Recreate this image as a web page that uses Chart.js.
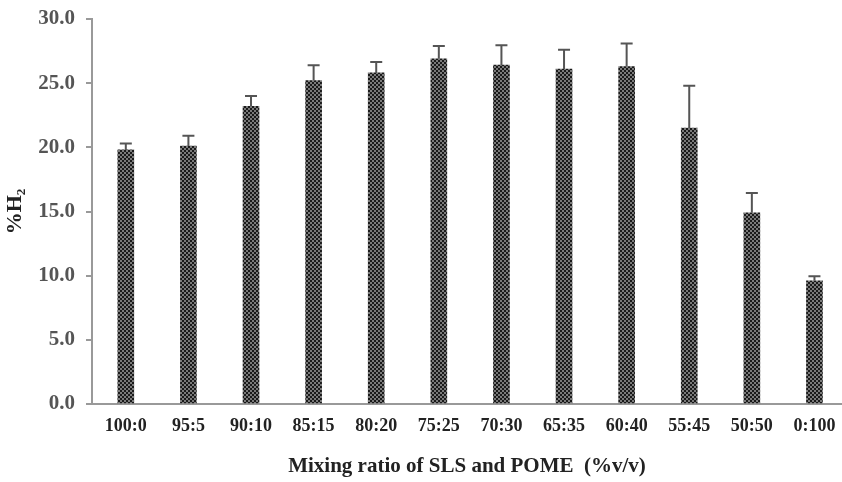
<!DOCTYPE html>
<html>
<head>
<meta charset="utf-8">
<script src="https://cdn.jsdelivr.net/npm/chart.js@4/dist/chart.umd.min.js"></script>
<style>
    html, body { margin: 0; padding: 0; background: #fff; }
    #wrap { width: 842px; height: 482px; }
</style>
</head>
<body>
<div id="wrap"><canvas id="h2Chart"></canvas></div>
<script>
const ratioLabels = ["100:0", "95:5", "90:10", "85:15", "80:20", "75:25", "70:30", "65:35", "60:40", "55:45", "50:50", "0:100"];
const h2Values = [19.8, 20.1, 23.2, 25.2, 25.8, 26.9, 26.4, 26.1, 26.3, 21.5, 14.9, 9.6];
const h2Errors = [0.5, 0.8, 0.8, 1.2, 0.85, 1.0, 1.55, 1.5, 1.8, 3.3, 1.55, 0.35];
const yTicks = [0, 5, 10, 15, 20, 25, 30];

// dotted fill like the printed hatch
function makePattern() {
    const c = document.createElement("canvas");
    c.width = 4;
    c.height = 4;
    const g = c.getContext("2d");
    g.fillStyle = "#1a1a1a";
    g.fillRect(0, 0, 4, 4);
    g.fillStyle = "#7a7a7a";
    g.fillRect(0, 0, 2, 2);
    g.fillRect(2, 2, 2, 2);
    return g.createPattern(c, "repeat");
}

const errorBars = {
    id: "errorBars",
    afterDatasetsDraw(chart) {
        const ctx = chart.ctx;
        const yScale = chart.scales.y;
        const meta = chart.getDatasetMeta(0);
        ctx.save();
        ctx.strokeStyle = "#555";
        ctx.lineWidth = 2;
        meta.data.forEach((bar, i) => {
            const top = yScale.getPixelForValue(h2Values[i] + h2Errors[i]);
            ctx.beginPath();
            ctx.moveTo(bar.x, bar.y);
            ctx.lineTo(bar.x, top);
            ctx.moveTo(bar.x - 6, top);
            ctx.lineTo(bar.x + 6, top);
            ctx.stroke();
        });
        ctx.restore();
    },
};

const serif = "'Liberation Serif', 'Times New Roman', serif";

new Chart(document.getElementById("h2Chart"), {
    type: "bar",
    data: {
        datasets: [
            {
                data: h2Values.map((v, i) => ({ x: i, y: v })),
                backgroundColor: makePattern(),
                borderWidth: 0,
                barThickness: 16,
            },
        ],
    },
    options: {
        responsive: true,
        maintainAspectRatio: false,
        animation: false,
        layout: { padding: { top: 19, right: 0, left: 0, bottom: 0 } },
        plugins: {
            legend: { display: false },
            tooltip: { enabled: false },
        },
        scales: {
            x: {
                type: "linear",
                offset: false,
                min: -0.54,
                max: 11.44,
                afterBuildTicks: (scale) => {
                    scale.ticks = ratioLabels.map((l, i) => ({ value: i }));
                },
                afterFit: (scale) => {
                    scale.height = 78;
                    scale.paddingLeft = 0;
                    scale.paddingRight = 0;
                },
                grid: { offset: false, drawOnChartArea: false, drawTicks: false },
                border: { color: "#999", width: 2 },
                ticks: {
                    padding: 12,
                    color: "#222",
                    maxRotation: 0,
                    autoSkip: false,
                    font: { family: serif, size: 18, weight: "bold" },
                    callback: (v) => ratioLabels[v],
                },
                title: {
                    display: true,
                    text: "Mixing ratio of SLS and POME  (%v/v)",
                    color: "#222",
                    font: { family: serif, size: 21, weight: "bold" },
                    padding: { top: 0, bottom: 3 },
                },
            },
            y: {
                min: 0,
                max: 30,
                afterBuildTicks: (scale) => {
                    scale.ticks = yTicks.map((v) => ({ value: v }));
                },
                afterFit: (scale) => {
                    scale.width = 92;
                    scale.paddingTop = 0;
                    scale.paddingBottom = 0;
                },
                grid: { drawOnChartArea: false, drawTicks: true, tickLength: 6, color: "#999", lineWidth: 2 },
                border: { color: "#999", width: 2 },
                ticks: {
                    padding: 11,
                    color: "#555",
                    font: { family: serif, size: 21, weight: "bold" },
                    callback: (v) => v.toFixed(1),
                },
                title: {
                    display: true,
                    text: "%H₂",
                    color: "#222",
                    font: { family: serif, size: 22, weight: "bold" },
                    padding: { top: 2, bottom: 2 },
                },
            },
        },
    },
    plugins: [errorBars],
});
</script>
</body>
</html>
